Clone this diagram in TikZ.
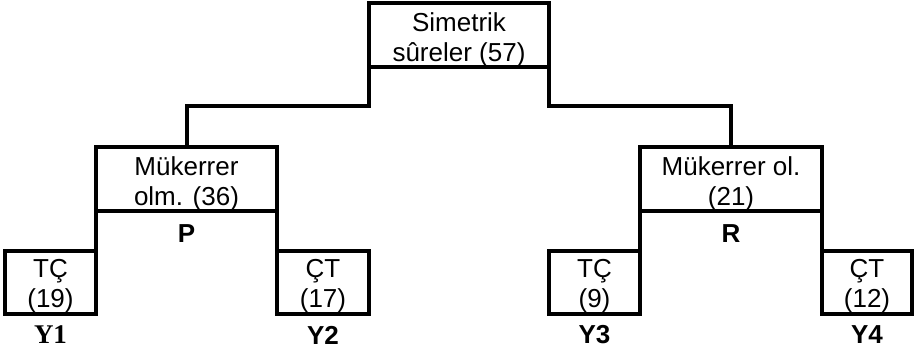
\documentclass[tikz,border=0pt]{standalone}
\usepackage{fontspec}
\setmainfont{Liberation Sans}
\newfontfamily\serifbf{Liberation Serif}
\usetikzlibrary{calc}

\begin{document}
\begin{tikzpicture}[
		x=1pt,y=-1pt,
		kutu/.style={rectangle,draw,line width=4pt,inner sep=0pt,outer sep=0pt,minimum height=64},
		hat/.style={line width=4pt},
		yazi/.style={align=center,inner sep=0pt,font=\fontsize{26}{30}\selectfont},
		etiket/.style={inner sep=0pt,font=\fontsize{26}{30}\selectfont\bfseries}]

		\useasboundingbox[fill=white] (0,0) rectangle (915,350);

		% kutular
		\node[kutu,minimum width=180] (sim) at (459,35) {};
		\node[kutu,minimum width=181] (mp) at (186.5,179) {};
		\node[kutu,minimum width=182] (mr) at (731,179) {};
		\node[kutu,minimum width=91,minimum height=63] (y1) at (50.5,282.5) {};
		\node[kutu,minimum width=92,minimum height=63] (y2) at (323,282.5) {};
		\node[kutu,minimum width=91,minimum height=63] (y3) at (594.5,282.5) {};
		\node[kutu,minimum width=90,minimum height=63] (y4) at (867,282.5) {};

		% yazilar
		\node[yazi] (simt) at ($ (sim) + (0,4.5) $) {Simetrik\\sûreler (57)};
		\node[yazi] (mpt) at ($ (mp) + (0,4.5) $) {Mükerrer\\olm. (36)};
		\node[yazi] (mrt) at ($ (mr) + (0,4.5) $) {Mükerrer ol.\\(21)};
		\node[yazi] (y1t) at ($ (y1) + (0,4) $) {TÇ\\(19)};
		\node[yazi] (y2t) at ($ (y2) + (0,4) $) {ÇT\\(17)};
		\node[yazi] (y3t) at ($ (y3) + (0,4) $) {TÇ\\(9)};
		\node[yazi] (y4t) at ($ (y4) + (0,4) $) {ÇT\\(12)};

		% baglantilar
		\draw[hat] (sim.south west) -- ++(0,39) -| (mp.north);
		\draw[hat] (sim.south east) -- ++(0,39) -| (mr.north);
		\draw[hat] (mp.south west) -- (y1.north east);
		\draw[hat] (mp.south east) -- (y2.north west);
		\draw[hat] (mr.south west) -- (y3.north east);
		\draw[hat] (mr.south east) -- (y4.north west);

		% etiketler
		\node[etiket] (p) at ($ (mp.south) + (0,23) $) {P};
		\node[etiket] (r) at ($ (mr.south) + (0,23) $) {R};
		\node[etiket,font=\fontsize{27}{30}\serifbf\bfseries] (l1) at ($ (y1.south) + (0,21) $) {Y1};
		\node[etiket] (l2) at ($ (y2.south) + (0,21) $) {Y2};
		\node[etiket] (l3) at ($ (y3.south) + (0,21) $) {Y3};
		\node[etiket] (l4) at ($ (y4.south) + (0,21) $) {Y4};

\end{tikzpicture}
\end{document}
